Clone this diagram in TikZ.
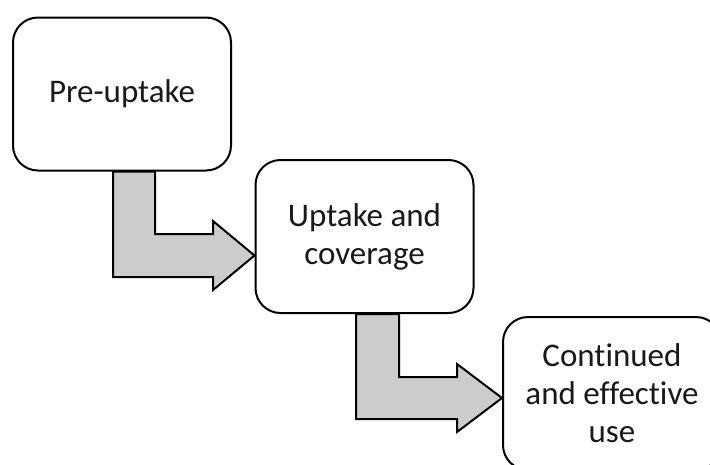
\documentclass[tikz,border=0pt]{standalone}
\usepackage{fontspec}
\setmainfont[Ligatures={NoCommon,NoRare}]{Carlito}
\begin{document}
\begin{tikzpicture}[x=1pt,y=-1pt,
  stagebox/.style={draw=black, line width=2pt, fill=white, rounded corners=25pt,
    minimum width=218pt, minimum height=153pt, align=center, inner sep=0pt,
    font=\fontsize{33}{38}\selectfont, text=black!90},
  bentarrow/.style={draw=black, line width=2pt, fill=black!20, line join=miter}]
\useasboundingbox (0,0) rectangle (710,464);
\clip (0,0) rectangle (710,464);
\node[stagebox] (b1) at (122,94) {Pre-uptake};
\node[stagebox] (b2) at (364.5,236.5) {Uptake and\\coverage};
\node[stagebox] (b3) at (612,393.5) {Continued\\and effective\\use};
\draw[bentarrow] (b1.south -| 113,0) -- (b1.south -| 155,0) -- (155,234) -- (213,234)
  -- (213,221) -- (b2.west |- 0,255.5) -- (213,290) -- (213,277) -- (113,277) -- cycle;
\draw[bentarrow] (b2.south -| 356,0) -- (b2.south -| 399,0) -- (399,377) -- (457,377)
  -- (457,364) -- (b3.west |- 0,398) -- (457,432) -- (457,419) -- (356,419) -- cycle;
\end{tikzpicture}
\end{document}
